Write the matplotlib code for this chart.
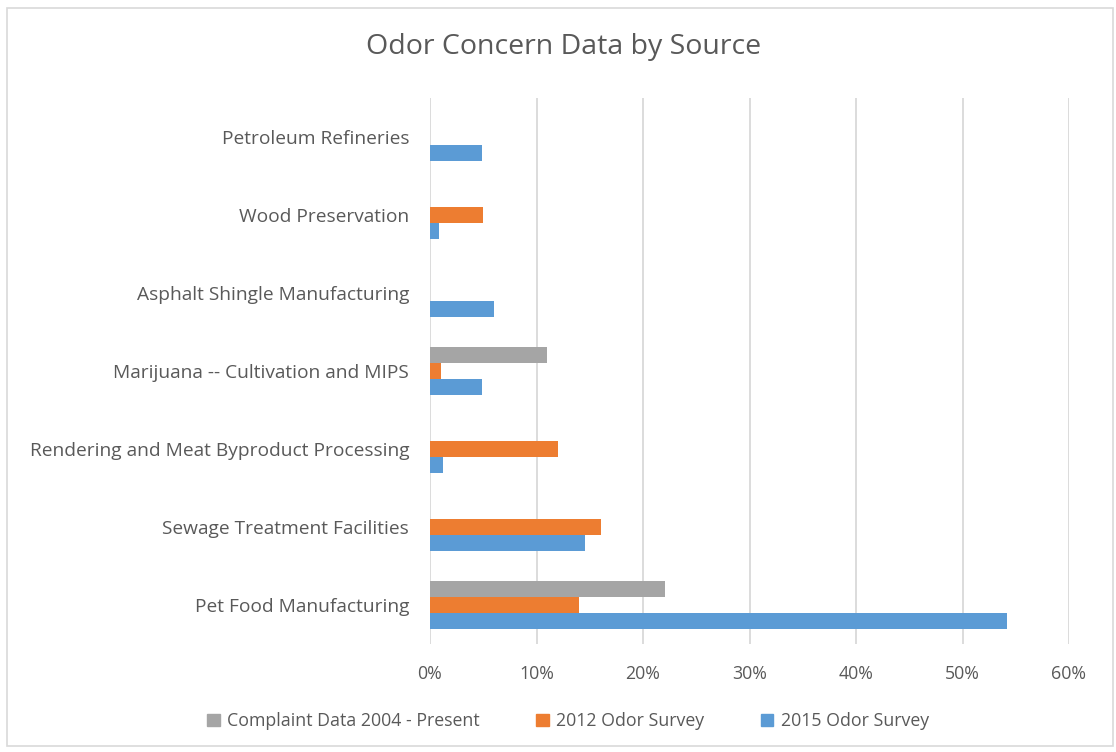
import matplotlib.pyplot as plt
import matplotlib.patches as mpatches
from matplotlib.ticker import FuncFormatter
import numpy as np

# data (bottom to top)
categories = [
    "Pet Food Manufacturing",
    "Sewage Treatment Facilities",
    "Rendering and Meat Byproduct Processing",
    "Marijuana -- Cultivation and MIPS",
    "Asphalt Shingle Manufacturing",
    "Wood Preservation",
    "Petroleum Refineries",
]
complaint_2004 = [22.1, 0, 0, 11.0, 0, 0, 0]
survey_2012 = [14.0, 16.1, 12.0, 1.0, 0, 5.0, 0]
survey_2015 = [54.2, 14.6, 1.2, 4.9, 6.0, 0.87, 4.9]
series_names = ["Complaint Data 2004 - Present", "2012 Odor Survey", "2015 Odor Survey"]
colors = ["#A5A5A5", "#ED7D31", "#5B9BD5"]

plt.rcParams['font.family'] = ['Open Sans', 'DejaVu Sans']
text_color = "#595959"

fig = plt.figure(figsize=(11.16, 7.52), dpi=100)
ax = fig.add_axes([430 / 1116, 108 / 752, 639 / 1116, 546 / 752])

y = np.arange(len(categories))
h = 0.205
for vals, off, col in zip([complaint_2004, survey_2012, survey_2015], [h, 0, -h], colors):
    ax.barh(y + off, vals, height=h, color=col, zorder=3)

ax.set_xlim(0, 60)
ax.set_ylim(-0.5, len(categories) - 0.5)
ax.set_xticks(range(0, 61, 10))
ax.xaxis.set_major_formatter(FuncFormatter(lambda v, p: f"{int(v)}%"))
ax.set_yticks(y)
ax.set_yticklabels(categories)
ax.tick_params(axis='both', length=0, colors=text_color)
ax.tick_params(axis='y', pad=15, labelsize=13.8)
ax.tick_params(axis='x', pad=15, labelsize=12.8)
ax.grid(axis='x', color="#d9d9d9", linewidth=1.3, zorder=0)
for s in ax.spines.values():
    s.set_visible(False)

fig.text(564 / 1116, 1 - 47 / 752, "Odor Concern Data by Source", ha='center', va='center',
         fontsize=20.5, color=text_color)

handles = [mpatches.Patch(color=c, label=n) for c, n in zip(colors, series_names)]
fig.legend(handles=handles, loc='center', bbox_to_anchor=(568 / 1116, 1 - 721 / 752), ncol=3,
           frameon=False, fontsize=12.8, labelcolor=text_color, handlelength=0.7, handleheight=0.7,
           handletextpad=0.4, columnspacing=3.2)

# light outer border of the chart area
fig.patches.append(mpatches.Rectangle((7 / 1116, 6 / 752), 1106 / 1116, 738 / 752,
                                      transform=fig.transFigure, fill=False,
                                      edgecolor="#d9d9d9", linewidth=1.2))

fig.savefig("out.png", dpi=100)
